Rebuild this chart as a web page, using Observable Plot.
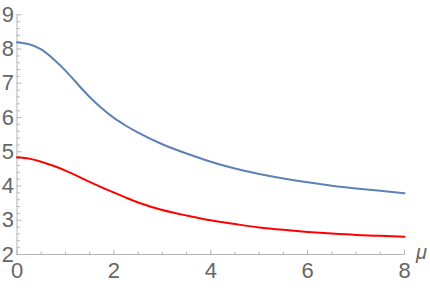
<!DOCTYPE html>
<html>
<head>
<meta charset="utf-8">
<script src="https://cdn.jsdelivr.net/npm/d3@7"></script>
<script src="https://cdn.jsdelivr.net/npm/@observablehq/plot@0.6"></script>
<style>
  html, body { margin: 0; padding: 0; background: #fff; }
</style>
</head>
<body>
<div id="chart"></div>
<script>
const mu = [0, 0.25, 0.5, 0.75, 1.0, 1.25, 1.5, 1.75, 2.0, 2.25, 2.5, 3.0, 3.5, 4.0, 4.5, 5.0, 5.5, 6.0, 6.5, 7.0, 7.5, 8.0];
const blueSeries = [8.20, 8.14, 7.99, 7.71, 7.37, 6.98, 6.60, 6.27, 5.99, 5.76, 5.56, 5.22, 4.95, 4.71, 4.51, 4.35, 4.22, 4.11, 4.01, 3.93, 3.86, 3.79];
const redSeries  = [4.84, 4.80, 4.71, 4.59, 4.45, 4.29, 4.12, 3.96, 3.81, 3.66, 3.52, 3.30, 3.14, 3.00, 2.89, 2.79, 2.72, 2.66, 2.61, 2.57, 2.545, 2.52];
const xMajor = [0, 2, 4, 6, 8];
const xMinor = [0.5, 1, 1.5, 2.5, 3, 3.5, 4.5, 5, 5.5, 6.5, 7, 7.5];
const yMajor = [2, 3, 4, 5, 6, 7, 8, 9];
const yMinor = [2.2, 2.4, 2.6, 2.8, 3.2, 3.4, 3.6, 3.8, 4.2, 4.4, 4.6, 4.8, 5.2, 5.4, 5.6, 5.8, 6.2, 6.4, 6.6, 6.8, 7.2, 7.4, 7.6, 7.8, 8.2, 8.4, 8.6, 8.8];
const xLabel = "μ";

const blue = mu.map((m, i) => ({mu: m, v: blueSeries[i]}));
const red = mu.map((m, i) => ({mu: m, v: redSeries[i]}));

const axisColor = "#b4b4b4";
const labelColor = "#666666";
const tickShape = {draw(ctx, l) { ctx.moveTo(0, 0); ctx.lineTo(0, -l); }};

const chart = Plot.plot({
  width: 430,
  height: 288,
  marginLeft: 16.5,
  marginRight: 26,
  marginTop: 14.3,
  marginBottom: 34,
  style: {fontFamily: "'Liberation Sans', Arial, sans-serif", background: "#fff"},
  x: {domain: [0, 8]},
  y: {domain: [2, 9]},
  marks: [
    Plot.ruleY([2], {stroke: axisColor, strokeWidth: 1}),
    Plot.ruleX([0], {stroke: axisColor, strokeWidth: 1}),
    Plot.vector(yMajor, {x: 0, y: d => d, rotate: 90, length: 4, anchor: "start", stroke: axisColor, strokeWidth: 1, shape: tickShape}),
    Plot.vector(yMinor, {x: 0, y: d => d, rotate: 90, length: 2.5, anchor: "start", stroke: axisColor, strokeWidth: 1, shape: tickShape}),
    Plot.vector(xMajor, {x: d => d, y: 2, rotate: 0, length: 4.5, anchor: "start", stroke: axisColor, strokeWidth: 1, shape: tickShape}),
    Plot.vector(xMinor, {x: d => d, y: 2, rotate: 0, length: 2.5, anchor: "start", stroke: axisColor, strokeWidth: 1, shape: tickShape}),
    Plot.axisY({ticks: yMajor, tickFormat: d => String(d), tickSize: 0, tickPadding: 3, fontSize: 22, fill: labelColor, label: null}),
    Plot.axisX({ticks: xMajor, tickFormat: d => String(d), tickSize: 0, tickPadding: 8, fontSize: 22, fill: labelColor, label: null}),
    Plot.line(blue, {x: "mu", y: "v", stroke: "#5E81B5", strokeWidth: 2, curve: "natural"}),
    Plot.line(red, {x: "mu", y: "v", stroke: "#FF0000", strokeWidth: 2, curve: "natural"}),
    Plot.text([xLabel], {frameAnchor: "bottom-right", text: d => d, dx: 17, dy: 4, fontSize: 20, fontStyle: "italic", fill: labelColor, textAnchor: "middle"})
  ]
});
document.getElementById("chart").appendChild(chart);
</script>
</body>
</html>
